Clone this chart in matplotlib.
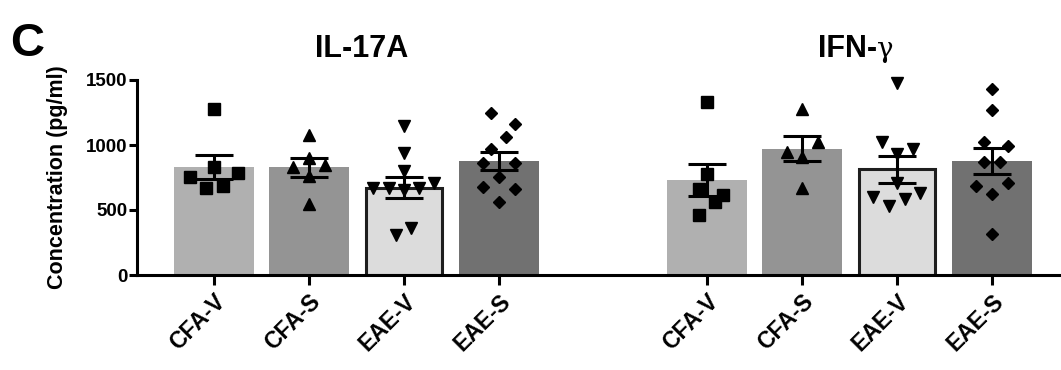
import matplotlib
matplotlib.use('Agg')
import matplotlib.pyplot as plt
import numpy as np

plt.rcParams['font.family'] = ['Liberation Sans', 'DejaVu Sans']
plt.rcParams['font.weight'] = 'bold'

groups = ['CFA-V', 'CFA-S', 'EAE-V', 'EAE-S']

il17_means = [828, 830, 672, 877]
il17_sems = [92, 73, 80, 72]
il17_points = [
    [1275, 828, 751, 782, 667, 685],
    [1080, 900, 830, 846, 760, 546],
    [1149, 936, 802, 672, 667, 654, 672, 705, 308, 364],
    [1249, 1162, 1059, 967, 859, 859, 751, 679, 662, 564],
]

ifng_means = [731, 972, 813, 879]
ifng_sems = [125, 97, 103, 101]
ifng_points = [
    [1328, 777, 659, 615, 564, 462],
    [1277, 1026, 949, 910, 667],
    [1479, 1026, 967, 928, 710, 603, 533, 585, 628],
    [1431, 1269, 1026, 992, 872, 872, 685, 710, 623, 313],
]

# horizontal spread of the dots inside each bar (layout only)
il17_jitter = [
    [0, 0, -0.25, 0.25, -0.08, 0.1],
    [0, 0, -0.17, 0.17, 0, 0],
    [0, 0, 0, -0.33, -0.16, 0, 0.16, 0.32, -0.08, 0.08],
    [-0.08, 0.17, 0.08, -0.08, -0.17, 0.17, 0, -0.17, 0.17, 0],
]
ifng_jitter = [
    [0, 0, -0.085, 0.17, 0.085, -0.085],
    [0, 0.17, -0.16, 0, 0],
    [0, -0.16, 0.17, 0, 0, -0.25, -0.085, 0.085, 0.25],
    [0, 0, -0.085, 0.17, -0.085, 0.085, -0.17, 0.17, 0, 0],
]

colors = ['#b0b0b0', '#949494', '#dcdcdc', '#717171']
markers = ['s', '^', 'v', 'D']
msizes = [8, 8.5, 8.5, 6.5]

fig = plt.figure(figsize=(10.61, 3.70), dpi=100)
ax = fig.add_axes([137 / 1061, 95 / 370, 1 - 137 / 1061, 195 / 370])

x1 = np.arange(4)
x2 = x1 + 5.19
lw = 2.2

for xs, means, sems, pts, jit in [(x1, il17_means, il17_sems, il17_points, il17_jitter),
                                  (x2, ifng_means, ifng_sems, ifng_points, ifng_jitter)]:
    for i in range(4):
        if i == 2:
            ax.bar(xs[i], means[i], width=0.8, color=colors[i], edgecolor='#1e1e1e',
                   linewidth=lw, zorder=2)
        else:
            ax.bar(xs[i], means[i], width=0.84, color=colors[i], zorder=2)
        ax.plot(xs[i] + np.array(jit[i]), pts[i], linestyle='none', marker=markers[i],
                markersize=msizes[i], color='black', zorder=3, clip_on=False)
    ax.errorbar(xs, means, yerr=sems, fmt='none', ecolor='black', elinewidth=lw,
                capsize=14, capthick=lw, zorder=4)

ax.set_xlim(-0.81, 8.92)
ax.set_ylim(0, 1500)
ax.set_yticks([0, 500, 1000, 1500])
ax.set_xticks(np.concatenate([x1, x2]))
ax.set_xticklabels(groups + groups, rotation=45, ha='right', va='top',
                   rotation_mode='anchor', fontsize=16.5, fontweight='bold')
ax.tick_params(axis='y', labelsize=13.5, width=lw, length=6, pad=1)
ax.tick_params(axis='x', width=lw, length=7, pad=4)
for lab in ax.get_yticklabels():
    lab.set_fontweight('bold')

for side in ['top', 'right']:
    ax.spines[side].set_visible(False)
ax.spines['left'].set_linewidth(lw)
ax.spines['bottom'].set_linewidth(lw)

ax.set_ylabel('Concentration (pg/ml)', fontsize=15.5, fontweight='bold')
ax.yaxis.set_label_coords(-0.075, 0.5)

fig.text(10 / 1061, 1 - 56 / 370, 'C', fontsize=34, fontweight='bold', va='baseline')
fig.text(362 / 1061, 1 - 57 / 370, 'IL-17A', fontsize=22, fontweight='bold',
         ha='center', va='baseline')
fig.text(877 / 1061, 1 - 57 / 370, 'IFN-', fontsize=22, fontweight='bold',
         ha='right', va='baseline')
fig.text(877 / 1061, 1 - 57 / 370, 'γ', fontsize=20, fontweight='normal',
         family='DejaVu Serif', ha='left', va='baseline')

fig.savefig('out.png', dpi=100)
